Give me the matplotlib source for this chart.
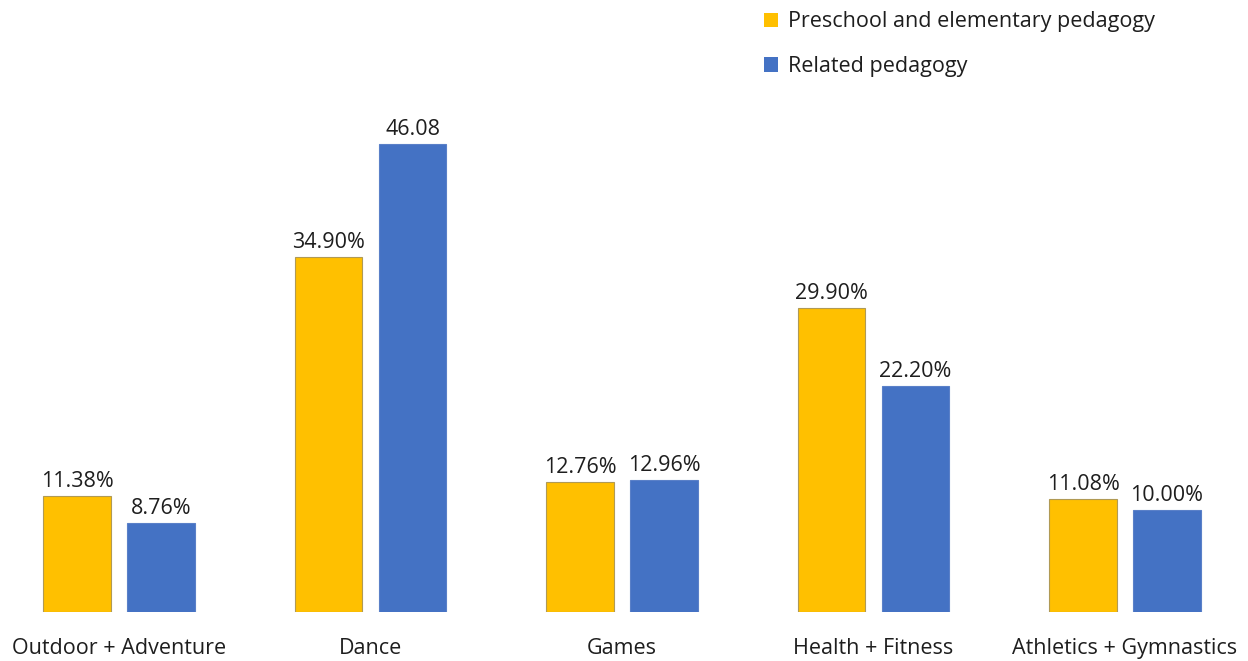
import matplotlib
matplotlib.use("Agg")
import matplotlib.pyplot as plt
from matplotlib.patches import Patch
import numpy as np

categories = ["Outdoor + Adventure", "Dance", "Games", "Health + Fitness", "Athletics + Gymnastics"]
preschool = [11.38, 34.90, 12.76, 29.90, 11.08]
related = [8.76, 46.08, 12.96, 22.20, 10.00]
preschool_labels = ["11.38%", "34.90%", "12.76%", "29.90%", "11.08%"]
related_labels = ["8.76%", "46.08", "12.96%", "22.20%", "10.00%"]
series_names = ["Preschool and elementary pedagogy", "Related pedagogy"]

YELLOW = "#FFC000"
BLUE = "#4472C4"
TXT = "#1e1e1e"
FS = 15.5

plt.rcParams['font.family'] = ['Open Sans', 'DejaVu Sans']

fig = plt.figure(figsize=(12.48, 6.61), dpi=100)
ax = fig.add_axes([0, (661-612)/661, 1, 612/661])

x = np.arange(len(categories))
w = 0.27
off = 0.167
b1 = ax.bar(x - off, preschool, w, color=YELLOW, edgecolor="#B09A55", linewidth=0.8)
b2 = ax.bar(x + off, related, w, color=BLUE, edgecolor="#5A80C8", linewidth=0.8)

for rects, labs in ((b1, preschool_labels), (b2, related_labels)):
    for r, lab in zip(rects, labs):
        ax.annotate(lab, (r.get_x() + r.get_width()/2, r.get_height()),
                    xytext=(0, 3), textcoords="offset points",
                    ha="center", va="bottom", fontsize=FS, color=TXT)

ax.set_xlim((0-119)/251.5, (1248-119)/251.5)
ax.set_ylim(0, 612/10.16)
ax.set_xticks(x)
ax.set_xticklabels(categories, fontsize=FS, color=TXT)
ax.tick_params(axis='x', length=0, pad=18.5)
ax.set_yticks([])
for s in ax.spines.values():
    s.set_visible(False)

handles = [Patch(facecolor=YELLOW, edgecolor="none"), Patch(facecolor=BLUE, edgecolor="none")]
fig.legend(handles, series_names, loc="upper left", bbox_to_anchor=(745/1248, 1.012),
           frameon=False, fontsize=FS, handlelength=0.65, handleheight=0.65,
           handletextpad=0.45, labelspacing=1.1, labelcolor=TXT)

fig.savefig("out.png", dpi=100)
